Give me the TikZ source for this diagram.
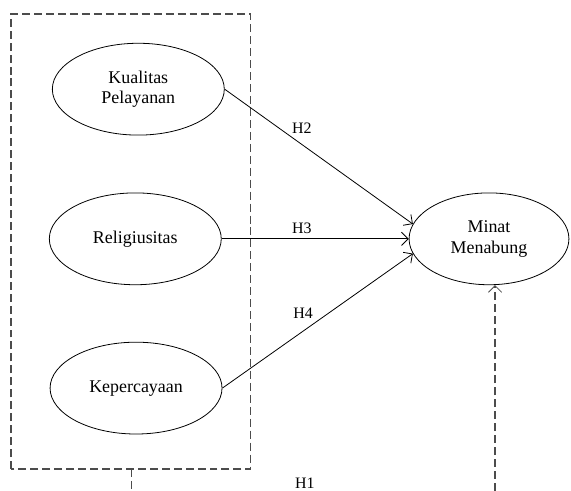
\documentclass[tikz,border=0pt]{standalone}
\usepackage{fontspec}
\setmainfont{Liberation Serif}
\usetikzlibrary{shapes.geometric}
\usetikzlibrary{arrows.meta}
\usetikzlibrary{positioning}

\tikzset{
  construct/.style={draw, ellipse, line width=0.6pt, minimum width=4.55cm, minimum height=2.43cm,
    align=center, font=\fontsize{13.5}{15.5}\selectfont, inner sep=0pt},
  hyp/.style={font=\fontsize{12}{14}\selectfont},
  path/.style={line width=0.6pt, -{Straight Barb[length=5pt,width=10pt,line width=0.6pt]}},
  group/.style={dash pattern=on 6pt off 3pt, line width=0.85pt, black!70},
}

\begin{document}
\begin{tikzpicture}
    \useasboundingbox (0, 0) rectangle (15.11, 12.99);

    % dashed group of the three predictors
    \draw [group] (0.29, 0.58) rectangle (6.64, 12.62);

    \node [construct] (kualitas) at (3.66, 10.63) {Kualitas\\Pelayanan};
    \node [construct] (religi) at (3.58, 6.67) {Religiusitas};
    \node [construct] (percaya) at (3.60, 2.72) {Kepercayaan};
    \node [construct, minimum width=4.23cm] (minat) at (12.94, 6.67) {Minat\\Menabung};

    \draw [path] (kualitas.east) -- (minat.169);
    \draw [path] (religi.east) -- (minat.west);
    \draw [path] (percaya.east) -- (minat.191);

    \node [hyp] (h2) at (7.99, 9.60) {H2};
    \node [hyp] (h3) at (7.99, 6.96) {H3};
    \node [hyp] (h4) at (8.02, 4.71) {H4};
    \node [hyp] (h1) at (8.07, 0.21) {H1};

    % simultaneous path H1
    \coordinate (boxfoot) at (3.47, 0.58);
    \coordinate (stubend) at (3.47, 0);
    \coordinate (h1start) at (13.10, 0);
    \draw [group] (boxfoot) -- (stubend);
    \draw [group, -{Straight Barb[length=5pt,width=10pt,line width=0.6pt]}] (h1start) -- (h1start |- minat.south);
\end{tikzpicture}
\end{document}
